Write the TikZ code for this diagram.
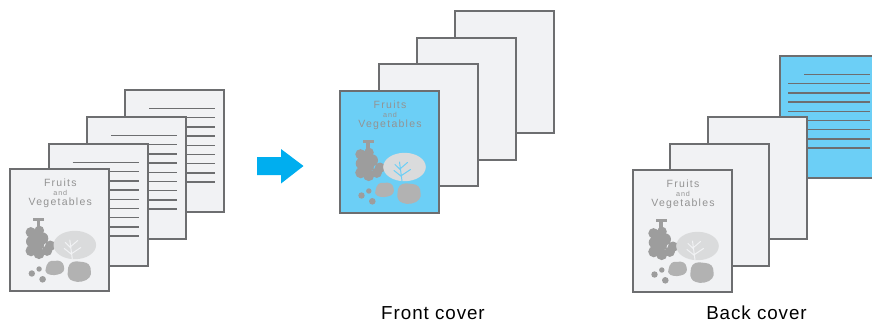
\documentclass[tikz,border=0pt]{standalone}
\usepackage{fontspec}
\setmainfont{Liberation Sans}
\newfontfamily\coverfont[LetterSpace=12]{Liberation Sans}
\newfontfamily\labelfont[LetterSpace=5]{Liberation Sans}

\definecolor{sheetedge}{HTML}{6D6E70}
\definecolor{sheetfill}{HTML}{F1F2F4}
\definecolor{coverblue}{HTML}{6CCFF6}
\definecolor{arrowblue}{HTML}{00AEEF}
\definecolor{rulegray}{HTML}{6D6E70}
\definecolor{titlegray}{HTML}{939393}
\definecolor{grapegray}{HTML}{9D9D9D}
\definecolor{potatogray}{HTML}{B2B2B2}
\definecolor{leafgray}{HTML}{DADBDC}

\tikzset{
  sheet/.style={draw=sheetedge, line width=2pt},
  textrule/.style={draw=rulegray, line width=1.35pt},
  covertitle/.style={text=titlegray, inner sep=0pt, anchor=base},
  caption/.style={font=\labelfont\fontsize{18.8}{22}\selectfont, anchor=base, inner sep=0pt},
  % plain sheet
  pics/blanksheet/.style={code={
    \draw[sheet, fill=#1] (0,0) rectangle (99,122);
  }},
  % sheet with text lines, first line indented
  pics/linedsheet/.style={code={
    \draw[sheet, fill=#1] (0,0) rectangle (99,122);
    \draw[textrule] (24,18.5) -- (90,18.5);
    \foreach \k in {1,...,8}{
      \draw[textrule] (8,{18.5+9.2*\k}) -- (90,{18.5+9.2*\k});
    }
  }},
  % cover sheet with title and produce illustration
  pics/coversheet/.style={code={
    \draw[sheet, fill=#1] (0,0) rectangle (99,122);
    \node[covertitle, font=\coverfont\fontsize{10.5}{12}\selectfont] (-fruits) at (50,17) {Fruits};
    \node[covertitle, font=\coverfont\fontsize{7.2}{8}\selectfont] (-and) at (50,26.3) {and};
    \node[covertitle, font=\coverfont\fontsize{10.5}{12}\selectfont] (-veg) at (50,36.3) {Vegetables};
    % grape stem
    \fill[grapegray] (22.5,48.5) rectangle (33.5,52);
    \fill[grapegray] (26.2,51.5) rectangle (30,58);
    % grape cluster
    \fill[grapegray]
      (20.5,63.3) circle [radius=5.2pt]
      (29,61.5)   circle [radius=4.8pt]
      (21.5,72.5) circle [radius=5.8pt]
      (32,69.3)   circle [radius=6pt]
      (40,76.7)   circle [radius=5.2pt]
      (20.8,81.7) circle [radius=5.6pt]
      (28.7,84.5) circle [radius=5.6pt]
      (36.8,81.7) circle [radius=5.2pt]
      (28,75)     circle [radius=6pt]
      (26,66)     circle [radius=5pt];
    % leaf with veins
    \fill[leafgray] (64.5,76) ellipse [x radius=21.3pt, y radius=14.2pt];
    \draw[draw=#1, line width=1pt, line cap=round]
      (62,90) -- (59.5,71)
      (61.5,85.5) -- (54,79.5)
      (61.5,84.5) -- (70.5,78.5)
      (60.6,79) -- (55,73.5)
      (60.5,77.5) -- (67.5,71.5);
    % potatoes
    \fill[potatogray] plot[smooth cycle, tension=0.8] coordinates
      {(35.5,99.5) (38.5,93) (44.5,91.8) (50.5,92.5) (53.5,97) (53,102.5) (47.5,105.5) (40.5,105.8) (36,103.5)};
    \fill[potatogray] plot[smooth cycle, tension=0.8] coordinates
      {(57.5,102.5) (59.5,95) (66,92.3) (72.5,93) (78.5,95.5) (80.5,102) (79,108.5) (71.5,112.5) (63,112) (58.3,108.3)};
    % small berries
    \fill[grapegray]
      (21.5,104.5) circle [radius=3.2pt]
      (28.8,100)   circle [radius=2.7pt]
      (32.3,110.3) circle [radius=3.3pt];
  }}
}

\begin{document}
\begin{tikzpicture}[x=1pt, y=-1pt]
  \useasboundingbox (0,0) rectangle (872,322);
  \clip (0,0) rectangle (872,322);

  % original document: cover followed by three text pages
  \pic (srcD) at (125,90) {linedsheet=sheetfill};
  \pic (srcC) at (87,117) {linedsheet=sheetfill};
  \pic (srcB) at (48.7,144) {linedsheet=sheetfill};
  \pic (srcA) at (10.3,169) {coversheet=sheetfill};

  % conversion arrow
  \fill[arrowblue] (257,157) -- (281,157) -- (281,149) -- (303.5,166)
    -- (281,183.5) -- (281,175) -- (257,175) -- cycle;

  % front cover on coloured paper
  \pic (frD) at (455,11) {blanksheet=sheetfill};
  \pic (frC) at (417,38) {blanksheet=sheetfill};
  \pic (frB) at (378.5,64) {blanksheet=sheetfill};
  \pic (frA) at (340,91) {coversheet=coverblue};

  % back cover on coloured paper
  \pic (bkD) at (780,56) {linedsheet=coverblue};
  \pic (bkC) at (708,117) {blanksheet=sheetfill};
  \pic (bkB) at (670,144) {blanksheet=sheetfill};
  \pic (bkA) at (633,170) {coversheet=sheetfill};

  \node[caption] (frontlabel) at (433,319) {Front cover};
  \node[caption] (backlabel) at (756.5,319) {Back cover};
\end{tikzpicture}
\end{document}
